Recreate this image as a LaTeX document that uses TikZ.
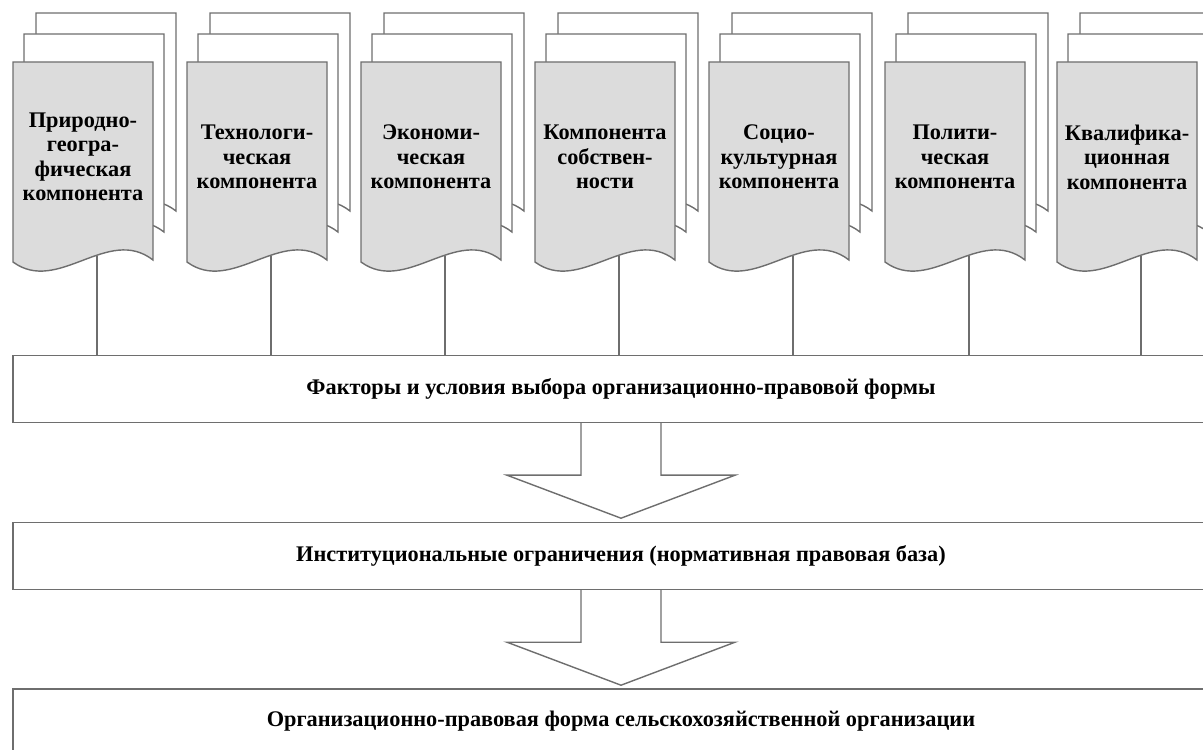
\documentclass[tikz,border=0pt]{standalone}
\usepackage{fontspec}
\setmainfont{Liberation Serif}
\usetikzlibrary{arrows,shapes}
\definecolor{sheetgray}{RGB}{220,220,220}
\definecolor{linegray}{RGB}{110,110,110}
\tikzstyle{sheet}=[draw=linegray,line width=0.8pt,fill=white]
\tikzstyle{frontsheet}=[sheet,fill=sheetgray]
\tikzstyle{sheettext}=[align=center,font=\fontsize{12.7}{13.9}\selectfont\bfseries,inner sep=0pt]
\tikzstyle{framebox}=[draw=linegray,line width=0.8pt,minimum width=24.32cm,minimum height=1.34cm,font=\fontsize{12.7}{14}\selectfont\bfseries]
\tikzstyle{link}=[draw=linegray,line width=0.8pt]
\tikzstyle{blockarrow}=[draw=linegray,line width=0.8pt,fill=white]

\begin{document}
\begin{tikzpicture}[x=0.02cm,y=-0.02cm]
    \useasboundingbox (0,0) rectangle (1203,750);
    \clip (0,0) rectangle (1203,750);
    % the three frames of the scheme
    \node[framebox] (fact) at (621,389) {Факторы и условия выбора организационно-правовой формы};
    \node[framebox] (inst) at (621,556) {Институциональные ограничения (нормативная правовая база)};
    \node[framebox,minimum height=1.28cm] (form) at (621,721) {Организационно-правовая форма сельскохозяйственной организации};

    % stacks of sheets, one per component
    \foreach \x/\txt [count=\i] in {13/{Природно-\\геогра-\\фическая\\компонента},
            187/{Технологи-\\ческая\\компонента}, 361/{Экономи-\\ческая\\компонента},
            535/{Компонента\\собствен-\\ности}, 709/{Социо-\\культурная\\компонента},
            885/{Полити-\\ческая\\компонента}, 1057/{Квалифика-\\ционная\\компонента}}
    {
        \begin{scope}[shift={(\x,0)}]
            \path[sheet] (23,13) -- (163,13) -- (163,211) .. controls (118,176) and (68,246) .. (23,213) -- cycle;
            \path[sheet] (11,34) -- (151,34) -- (151,232) .. controls (106,197) and (56,267) .. (11,234) -- cycle;
            \path[frontsheet] (0,62) -- (140,62) -- (140,260) .. controls (95,225) and (45,295) .. (0,262) -- cycle;
            \node[sheettext] (s\i) at (70,157) {\txt};
            \coordinate (c\i) at (84,256);
        \end{scope}
        \path[link] (c\i) -- (c\i |- fact.north);
    }

    % block arrows between the frames
    \path[blockarrow] (fact.south) ++(-40,0) -- ++(0,52) -- ++(-74,0) -- ++(114,43)
        -- ++(114,-43) -- ++(-74,0) -- ++(0,-52);
    \path[blockarrow] (inst.south) ++(-40,0) -- ++(0,52) -- ++(-74,0) -- ++(114,43)
        -- ++(114,-43) -- ++(-74,0) -- ++(0,-52);
\end{tikzpicture}
\end{document}
